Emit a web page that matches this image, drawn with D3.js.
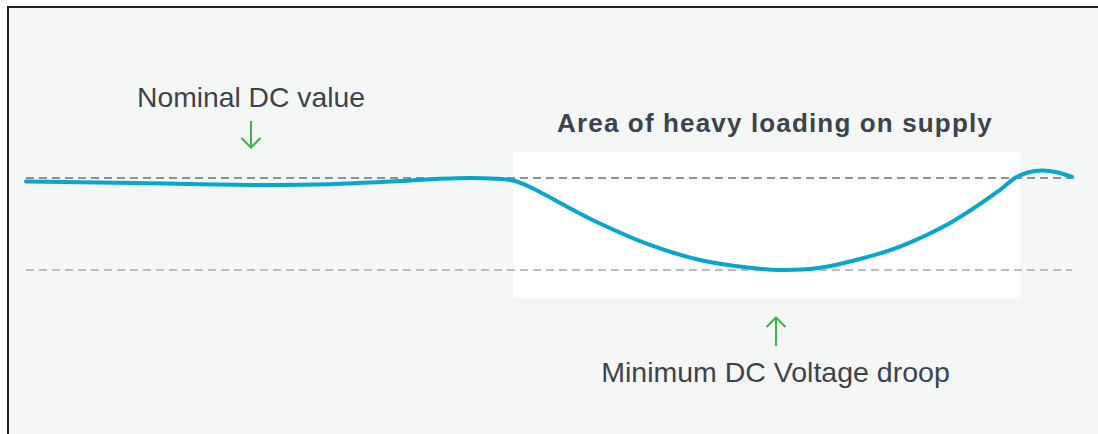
<!DOCTYPE html>
<html>
<head>
<meta charset="utf-8">
<script src="https://cdn.jsdelivr.net/npm/d3@7/dist/d3.min.js"></script>
<style>
  html, body { margin: 0; padding: 0; background: #ffffff; }
  svg { display: block; }
  text { font-family: "Liberation Sans", Arial, Helvetica, sans-serif; fill: #3b444e; }
</style>
</head>
<body>
<svg id="chart" width="1098" height="434"></svg>
<script>
// ---- data (time in arbitrary units, voltage in % of nominal) ----
const times    = [0, 124, 244, 304, 374, 414, 444, 469, 489, 507, 537, 574, 624, 674, 724, 754, 794, 834, 874, 924, 974, 989, 1002, 1016, 1032, 1046];
const voltage  = [99.62, 99.42, 99.24, 99.33, 99.67, 99.91, 100.0, 99.93, 99.67, 98.86, 97.12, 95.05, 92.72, 91.09, 90.24, 90.0, 90.24, 91.20, 92.55, 95.11, 98.70, 100.0, 100.60, 100.82, 100.60, 100.11];
const referenceLevels = [100, 90];          // nominal, minimum droop
const loadingWindow   = [487, 994];         // heavy-loading interval (time)
const loadingBand     = [86.96, 102.83];    // vertical extent of highlight (voltage)
const labels = {
  nominal: "Nominal DC value",
  minimum: "Minimum DC Voltage droop",
  title: "Area of heavy loading on supply"
};
const arrowTimes = { nominal: 225, minimum: 750 };

// ---- scales ----
const x = d3.scaleLinear().domain([0, 1046]).range([26, 1072]);
const y = d3.scaleLinear().domain([90, 100]).range([270, 178]);

const svg = d3.select("#chart");

// panel background with top/left border
svg.append("rect").attr("x", 7).attr("y", 6).attr("width", 1100).attr("height", 440).attr("fill", "#f5f7f7");
svg.append("path").attr("d", "M8,440 L8,7 L1100,7").attr("fill", "none").attr("stroke", "#1f1f1f").attr("stroke-width", 2);

// heavy loading highlight
svg.append("rect")
  .attr("x", x(loadingWindow[0]))
  .attr("y", y(loadingBand[1]))
  .attr("width", x(loadingWindow[1]) - x(loadingWindow[0]))
  .attr("height", y(loadingBand[0]) - y(loadingBand[1]))
  .attr("fill", "#ffffff");

// reference dashed lines
const refColors = ["#6a7077", "#a9abad"];
svg.selectAll("line.ref").data(referenceLevels).join("line")
  .attr("class", "ref")
  .attr("x1", x(0)).attr("x2", x(1046))
  .attr("y1", d => y(d)).attr("y2", d => y(d))
  .attr("stroke", (d, i) => refColors[i])
  .attr("stroke-width", 1.4)
  .attr("stroke-dasharray", "8,5");

// voltage curve
const pts = times.map((t, i) => [t, voltage[i]]);
svg.append("path")
  .datum(pts)
  .attr("fill", "none")
  .attr("stroke", "#06a7cd")
  .attr("stroke-width", 4)
  .attr("stroke-linecap", "round")
  .attr("d", d3.line().x(d => x(d[0])).y(d => y(d[1])).curve(d3.curveCatmullRom.alpha(0.5)));

// annotations
const green = "#3cb54b";
function arrow(cx, yTail, yTip) {
  const dir = yTip > yTail ? 1 : -1;
  const g = svg.append("g").attr("fill", "none").attr("stroke", green).attr("stroke-width", 2);
  g.append("line").attr("x1", cx).attr("x2", cx).attr("y1", yTail).attr("y2", yTip);
  g.append("polyline").attr("points",
    `${cx - 9.5},${yTip - dir * 9.5} ${cx},${yTip} ${cx + 9.5},${yTip - dir * 9.5}`)
    .attr("stroke-linejoin", "miter");
}
const nx = x(arrowTimes.nominal);
const mx = x(arrowTimes.minimum);
arrow(nx, y(100) - 57, y(100) - 30.5);
arrow(mx, y(90) + 76, y(90) + 47.5);

svg.append("text").attr("x", nx).attr("y", 107).attr("text-anchor", "middle")
  .attr("font-size", 28.3).text(labels.nominal);
svg.append("text").attr("x", mx - 0.5).attr("y", 382).attr("text-anchor", "middle")
  .attr("font-size", 28.5).text(labels.minimum);
svg.append("text").attr("x", 775).attr("y", 132).attr("text-anchor", "middle")
  .attr("font-size", 26).attr("font-weight", "bold").attr("letter-spacing", 1.15)
  .text(labels.title);
</script>
</body>
</html>
